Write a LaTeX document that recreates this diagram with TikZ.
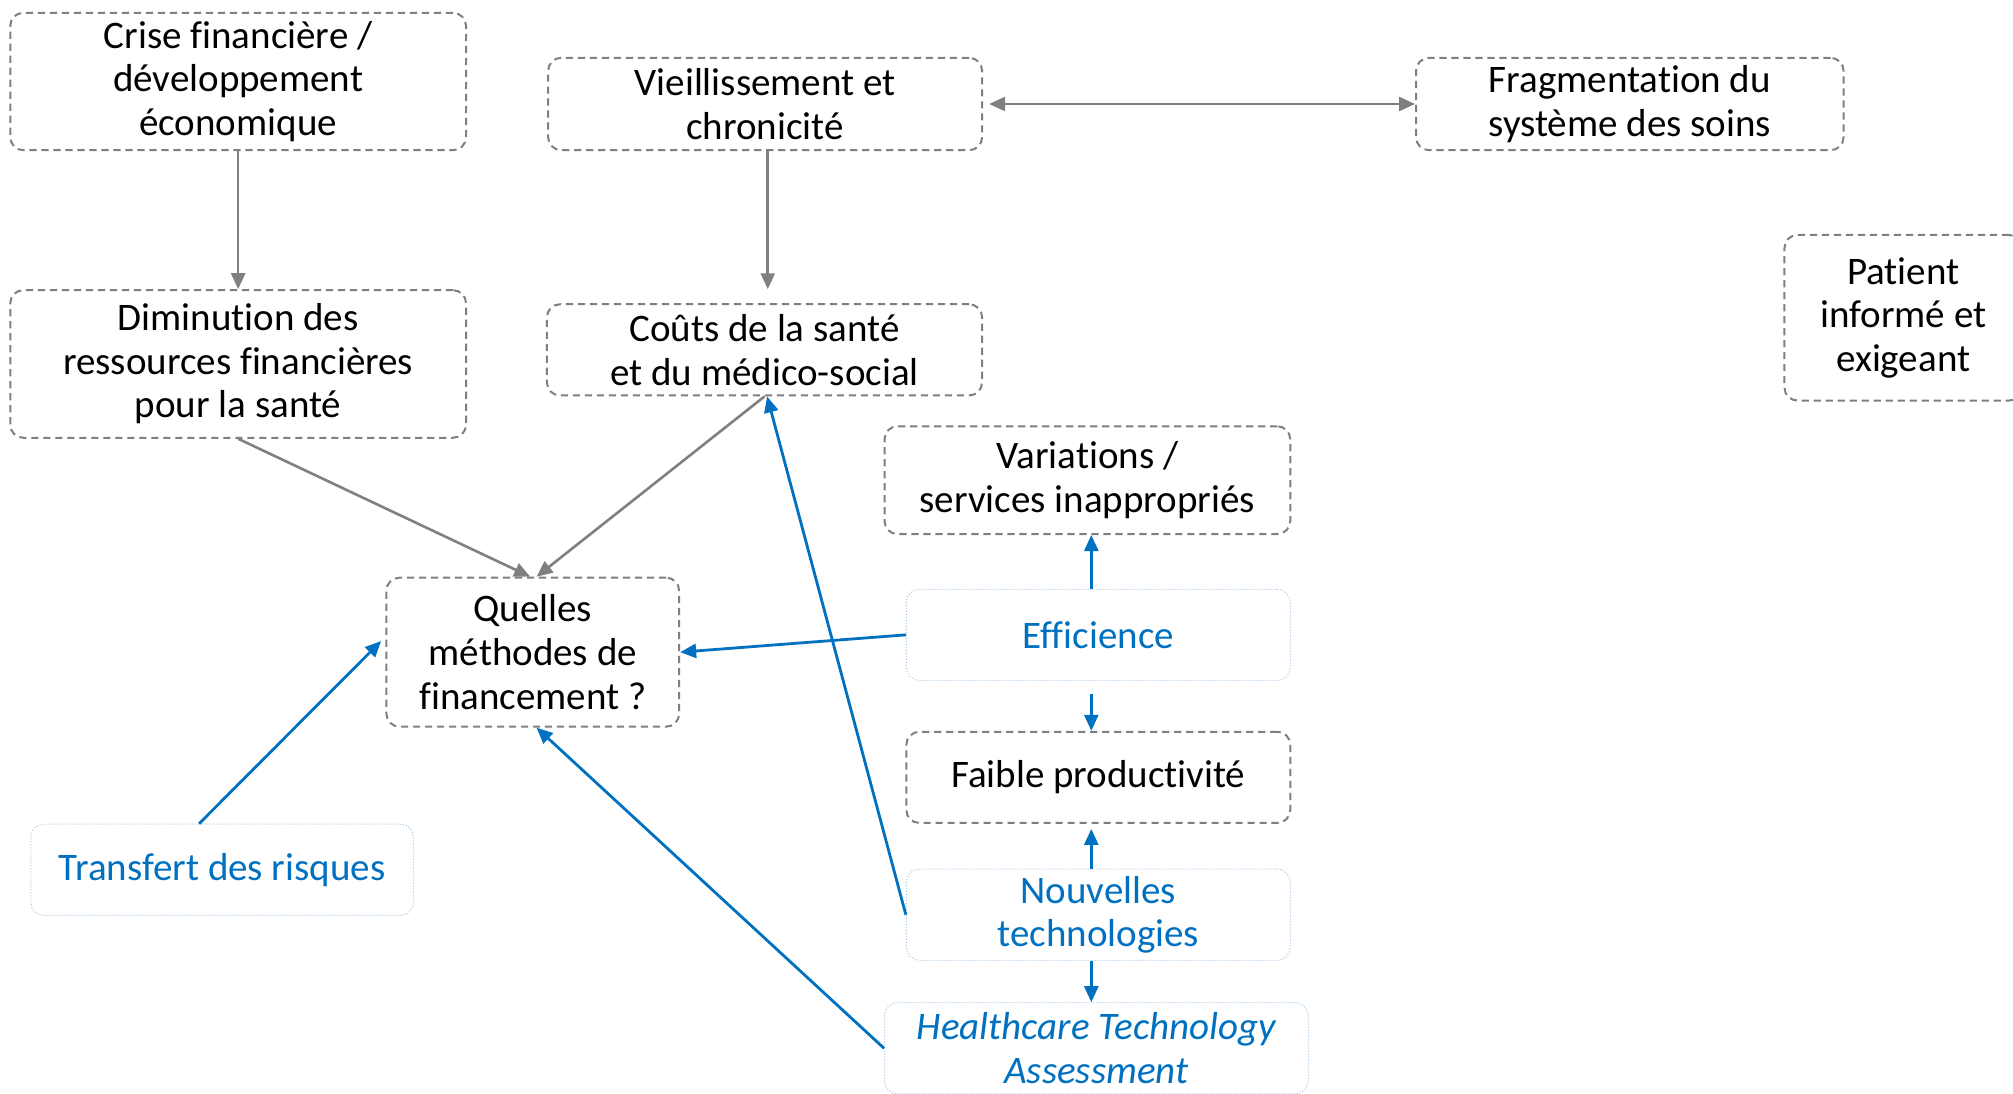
\documentclass[tikz,border=0pt]{standalone}
\usepackage{fontspec}
\setmainfont{Carlito}[RawFeature=-liga]
\usetikzlibrary{arrows.meta,calc}
\definecolor{bxgray}{HTML}{7F7F7F}
\definecolor{arrgray}{HTML}{808080}
\definecolor{myblue}{HTML}{0070C0}
\definecolor{lightblue}{HTML}{9DC3E6}
\tikzset{
  gbox/.style={draw=bxgray, line width=1pt, dash pattern=on 3.6pt off 2.4pt,
    rounded corners=6.5pt, align=center, inner sep=0pt, text=black,
    font=\fontsize{19.5}{21.8}\selectfont},
  bbox/.style={draw=lightblue, line width=0.5pt, densely dotted,
    rounded corners=6.5pt, align=center, inner sep=0pt, text=myblue,
    font=\fontsize{19.5}{21.8}\selectfont},
  garr/.style={draw=arrgray, line width=1.3pt, -{Triangle[length=8pt,width=7pt]}},
  barr/.style={draw=myblue, line width=1.4pt, -{Triangle[length=8pt,width=7pt]}},
}
\begin{document}
\begin{tikzpicture}[x=0.642pt,y=-0.642pt]
\useasboundingbox (0,0) rectangle (1568,852);
% gray boxes
\node[gbox, minimum width=227.9pt, minimum height=68.7pt] (crise) at (185.5,63.5) {Crise financière /\\développement\\économique};
\node[gbox, minimum width=217pt, minimum height=46.2pt] (vieil) at (596,81) {Vieillissement et\\chronicité};
\node[gbox, minimum width=213.8pt, minimum height=46.2pt] (frag) at (1269.5,81) {Fragmentation du\\système des soins};
\node[gbox, minimum width=118.8pt, minimum height=82.8pt] (patient) at (1482.5,247.5) {Patient\\informé et\\exigeant};
\node[gbox, minimum width=227.9pt, minimum height=73.8pt] (dimin) at (185.5,283.5) {Diminution des\\ressources financières\\pour la santé};
\node[gbox, minimum width=217.6pt, minimum height=45.6pt] (couts) at (595.5,272.5) {Coûts de la santé\\et du médico-social};
\node[gbox, minimum width=202.9pt, minimum height=53.9pt] (var) at (847,374) {Variations /\\services inappropriés};
\node[gbox, minimum width=146.4pt, minimum height=74.5pt] (quel) at (415,508) {Quelles\\méthodes de\\financement ?};
\node[gbox, minimum width=192pt, minimum height=45.6pt] (faible) at (855.5,605.5) {Faible productivité};
% blue boxes
\node[bbox, minimum width=192pt, minimum height=45.6pt] (eff) at (855.5,494.5) {Efficience};
\node[bbox, minimum width=191.3pt, minimum height=45.6pt] (trans) at (173,677.5) {Transfert des risques};
\node[bbox, minimum width=192pt, minimum height=45.6pt] (nouv) at (855.5,712.5) {Nouvelles\\technologies};
\node[bbox, minimum width=211.9pt, minimum height=45.6pt, font=\fontsize{19.5}{21.8}\selectfont\itshape] (hta) at (854,816.5) {Healthcare Technology\\Assessment};
% gray arrows
\draw[garr] (crise.south) -- (dimin.north);
\draw[garr, shorten >=7pt] ([xshift=1.3pt]vieil.south) -- ([xshift=1.3pt]vieil.south |- couts.north);
\draw[draw=arrgray, line width=1.3pt, {Triangle[length=8pt,width=7pt]}-{Triangle[length=8pt,width=7pt]}, shorten <=3pt] (vieil.east) -- (frag.west);
\draw[garr] (dimin.south) -- ([xshift=-1.3pt]quel.north);
\draw[garr] (couts.south) -- ([xshift=1.9pt]quel.north);
% blue arrows
\draw[barr] (eff.west) -- (quel.east);
\draw[barr] ([xshift=-3.5pt]eff.north) -- ([xshift=-3.5pt]eff.north |- var.south);
\draw[barr, shorten <=6.4pt] ([xshift=-3.5pt]eff.south) -- ([xshift=-3.5pt]eff.south |- faible.north);
\draw[barr, shorten >=2.5pt] ([xshift=-3.5pt]nouv.north) -- ([xshift=-3.5pt]nouv.north |- faible.south);
\draw[barr] ([xshift=-3.5pt]nouv.south) -- ([xshift=-3.5pt]nouv.south |- hta.north);
\draw[barr] (nouv.west) -- ([xshift=1.3pt]couts.south);
\draw[barr] (hta.west) -- ([xshift=1.9pt]quel.south);
\draw[barr, shorten >=3pt] ([xshift=-11.5pt]trans.north) -- ([yshift=7.7pt]quel.west);
\end{tikzpicture}
\end{document}
